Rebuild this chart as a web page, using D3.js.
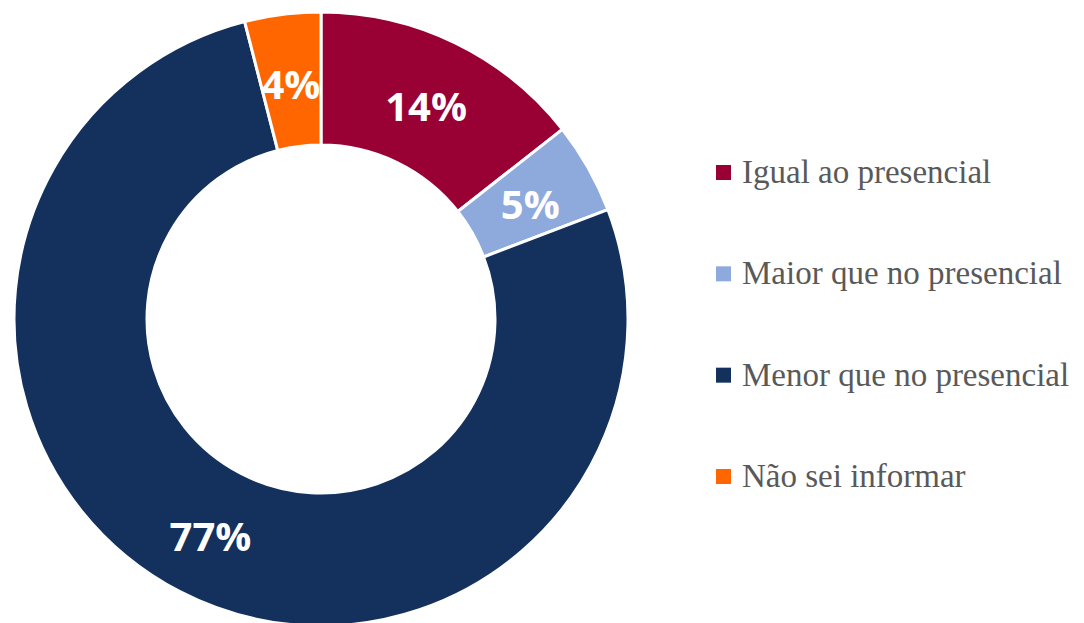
<!DOCTYPE html>
<html>
<head>
<meta charset="utf-8">
<script src="https://cdn.jsdelivr.net/npm/d3@7"></script>
<style>
  body { margin: 0; background: #fff; }
</style>
</head>
<body>
<div id="chart"></div>
<script>
// data
var categories = ["Igual ao presencial", "Maior que no presencial", "Menor que no presencial", "Não sei informar"];
var values = [14.4, 4.8, 76.8, 4.0];
var labels = ["14%", "5%", "77%", "4%"];
var colors = ["#990033", "#8eaadc", "#13315c", "#ff6600"];

var width = 1084, height = 623;
var cx = 321, cy = 319, outer = 307, inner = 174;

var svg = d3.select("#chart")
    .append("svg")
    .attr("width", width)
    .attr("height", height);

var pie = d3.pie().sort(null).value(function(d){ return d; });
var arc = d3.arc().innerRadius(inner).outerRadius(outer);

var g = svg.append("g").attr("transform", "translate(" + cx + "," + cy + ")");

var slices = pie(values);

g.selectAll("path")
  .data(slices)
  .enter()
  .append("path")
  .attr("d", arc)
  .attr("fill", function(d, i){ return colors[i]; })
  .attr("stroke", "#fff")
  .attr("stroke-width", 3);

g.selectAll("text")
  .data(slices)
  .enter()
  .append("text")
  .attr("transform", function(d){ return "translate(" + arc.centroid(d) + ")"; })
  .attr("text-anchor", "middle")
  .attr("dy", "0.46em")
  .attr("fill", "#fff")
  .style("font-family", "'Open Sans', sans-serif")
  .style("font-weight", "bold")
  .style("font-size", "40px")
  .text(function(d, i){ return labels[i]; });

// legend
var legendY = d3.scalePoint().domain(categories).range([172, 476]);

var legend = svg.append("g");
var item = legend.selectAll("g")
  .data(categories)
  .enter()
  .append("g")
  .attr("transform", function(d){ return "translate(716," + legendY(d) + ")"; });

item.append("rect")
  .attr("x", 0)
  .attr("y", -7)
  .attr("width", 15)
  .attr("height", 15)
  .attr("fill", function(d, i){ return colors[i]; });

item.append("text")
  .attr("x", 26)
  .attr("dy", "0.33em")
  .attr("fill", "#595959")
  .style("font-family", "'Liberation Serif', serif")
  .style("font-size", "33px")
  .text(function(d){ return d; });
</script>
</body>
</html>
